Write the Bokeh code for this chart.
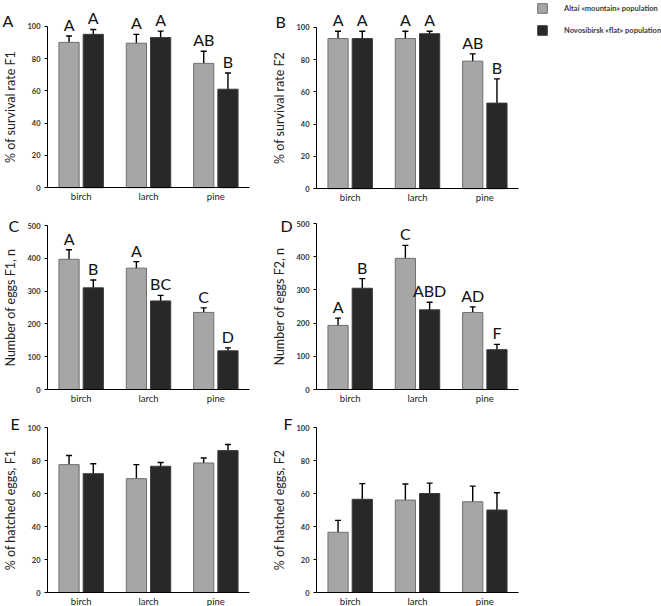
from bokeh.plotting import figure
from bokeh.layouts import column, row
from bokeh.models import (ColumnDataSource, FixedTicker, Range1d, Whisker, LabelSet,
                          Label, Legend, LegendItem, TeeHead)
from bokeh.core.properties import value
from bokeh.embed import file_html
from bokeh.resources import INLINE

categories = ["birch", "larch", "pine"]
populations = ["Altai «mountain» population", "Novosibirsk «flat» population"]

# survival rate F1 (%)
surv_f1_altai = [90, 89.5, 77]
surv_f1_altai_err = [4, 5.5, 7.5]
surv_f1_novo = [95, 93, 61]
surv_f1_novo_err = [3, 4, 10]
surv_f1_groups_altai = ["A", "A", "AB"]
surv_f1_groups_novo = ["A", "A", "B"]

# survival rate F2 (%)
surv_f2_altai = [93, 93, 79]
surv_f2_altai_err = [4.5, 4.5, 4.5]
surv_f2_novo = [93, 96, 53]
surv_f2_novo_err = [4.5, 1.5, 15]
surv_f2_groups_altai = ["A", "A", "AB"]
surv_f2_groups_novo = ["A", "A", "B"]

# number of eggs F1
eggs_f1_altai = [397, 370, 235]
eggs_f1_altai_err = [29, 20, 14]
eggs_f1_novo = [310, 270, 118]
eggs_f1_novo_err = [24, 17, 9]
eggs_f1_groups_altai = ["A", "A", "C"]
eggs_f1_groups_novo = ["B", "BC", "D"]

# number of eggs F2
eggs_f2_altai = [193, 395, 232]
eggs_f2_altai_err = [22, 39, 17]
eggs_f2_novo = [305, 240, 120]
eggs_f2_novo_err = [29, 23, 16]
eggs_f2_groups_altai = ["A", "C", "AD"]
eggs_f2_groups_novo = ["B", "ABD", "F"]

# hatched eggs F1 (%)
hatch_f1_altai = [77.5, 69, 78.5]
hatch_f1_altai_err = [5.5, 8.5, 3]
hatch_f1_novo = [72, 76.5, 86]
hatch_f1_novo_err = [6, 2.3, 3.7]

# hatched eggs F2 (%)
hatch_f2_altai = [36.5, 56, 55]
hatch_f2_altai_err = [7.2, 9.8, 9.5]
hatch_f2_novo = [56.5, 60, 50]
hatch_f2_novo_err = [9.5, 6.3, 10.5]

pct_ticks = [0, 20, 40, 60, 80, 100]
egg_ticks = [0, 100, 200, 300, 400, 500]

FONT = "Lato"
LIGHT, LIGHT_EDGE = "#a6a6a6", "#6f6f6f"
DARK, DARK_EDGE = "#282828", "#3c3c3c"


def panel(tag, ylabel, ticks, altai, altai_err, novo, novo_err,
          groups_altai=None, groups_novo=None, *, width, height,
          x0_px, x3_px, y0_px, ytop_px, tag_dx, tag_dy):
    """One bar panel; the plot frame fills the whole canvas and the axes are
    pinned at x=0 / y=0 so that group letters and the panel tag are never clipped."""
    n = len(categories)
    ymin, ymax = ticks[0], ticks[-1]
    ppu_x = (x3_px - x0_px) / n
    ppu_y = (y0_px - ytop_px) / (ymax - ymin)
    x_range = Range1d(-x0_px / ppu_x, n + (width - x3_px) / ppu_x)
    y_range = Range1d(ymin - (height - y0_px) / ppu_y, ymax + ytop_px / ppu_y)

    p = figure(width=width, height=height, x_range=x_range, y_range=y_range,
               output_backend="svg", toolbar_location=None,
               min_border=0, min_border_left=0, min_border_right=0,
               min_border_top=0, min_border_bottom=0)
    p.outline_line_color = None
    p.grid.visible = False
    p.background_fill_color = "white"
    p.border_fill_color = "white"

    centers = [i + 0.5 for i in range(n)]
    for vals, errs, groups, dx, fill, edge in (
            (altai, altai_err, groups_altai, -0.18, LIGHT, LIGHT_EDGE),
            (novo, novo_err, groups_novo, 0.18, DARK, DARK_EDGE)):
        src = ColumnDataSource(dict(
            x=[c + dx for c in centers], top=vals,
            upper=[v + e for v, e in zip(vals, errs)],
            lower=[v - e for v, e in zip(vals, errs)],
            grp=groups if groups else [""] * len(vals)))
        p.vbar(x="x", top="top", bottom=0, width=0.3, source=src,
               fill_color=fill, line_color=edge, line_width=1)
        p.add_layout(Whisker(source=src, base="x", upper="upper", lower="lower",
                             line_color="black", line_width=1.4,
                             upper_head=TeeHead(size=6, line_width=1.4, line_color="black"),
                             lower_head=TeeHead(size=6, line_width=1.4, line_color="black")))
        if groups:
            p.add_layout(LabelSet(source=src, x="x", y="upper", text="grp",
                                  text_align="center", text_baseline="alphabetic",
                                  y_offset=5, text_font=value(FONT),
                                  text_font_size=value("16px"), text_color="#111111"))

    p.add_layout(Label(x=0, y=ymax, x_offset=tag_dx, y_offset=tag_dy, text=tag,
                       text_font=FONT, text_font_size="16px", text_color="#111111",
                       text_baseline="alphabetic", text_align="left"))

    yax = p.yaxis[0]
    yax.fixed_location = 0
    yax.bounds = (ymin, ymax)
    yax.ticker = FixedTicker(ticks=ticks)
    yax.minor_tick_line_color = None
    yax.major_tick_in = 0
    yax.major_tick_out = 3
    yax.major_label_standoff = 4
    yax.major_label_text_font = FONT
    yax.major_label_text_font_style = "bold"
    yax.major_label_text_font_size = "7.5px"
    yax.major_label_text_color = "#333333"
    yax.axis_label = ylabel
    yax.axis_label_text_font = FONT
    yax.axis_label_text_font_style = "normal"
    yax.axis_label_text_font_size = "12.5px"
    yax.axis_label_text_color = "#222222"
    yax.axis_label_standoff = 6
    yax.axis_line_color = "black"

    xax = p.xaxis[0]
    xax.fixed_location = ymin
    xax.bounds = (0, n)
    xax.ticker = FixedTicker(ticks=centers)
    xax.major_label_overrides = {c: name for c, name in zip(centers, categories)}
    xax.minor_tick_line_color = None
    xax.major_tick_line_color = None
    xax.major_tick_in = 0
    xax.major_tick_out = 0
    xax.major_label_standoff = 3
    xax.major_label_text_font = FONT
    xax.major_label_text_font_size = "9.5px"
    xax.major_label_text_color = "#222222"
    xax.axis_line_color = "black"
    return p


LW, RW = 270, 260
pa = panel("A", "% of survival rate F1", pct_ticks, surv_f1_altai, surv_f1_altai_err,
           surv_f1_novo, surv_f1_novo_err, surv_f1_groups_altai, surv_f1_groups_novo,
           width=LW, height=205, x0_px=47, x3_px=249, y0_px=187, ytop_px=24,
           tag_dx=-45, tag_dy=6)
pb = panel("B", "% of survival rate F2", pct_ticks, surv_f2_altai, surv_f2_altai_err,
           surv_f2_novo, surv_f2_novo_err, surv_f2_groups_altai, surv_f2_groups_novo,
           width=RW, height=205, x0_px=46, x3_px=248, y0_px=188, ytop_px=25,
           tag_dx=-41, tag_dy=6)
pc = panel("C", "Number of eggs F1, n", egg_ticks, eggs_f1_altai, eggs_f1_altai_err,
           eggs_f1_novo, eggs_f1_novo_err, eggs_f1_groups_altai, eggs_f1_groups_novo,
           width=LW, height=205, x0_px=47, x3_px=249, y0_px=184, ytop_px=20,
           tag_dx=-39, tag_dy=0)
pd_ = panel("D", "Number of eggs F2, n", egg_ticks, eggs_f2_altai, eggs_f2_altai_err,
            eggs_f2_novo, eggs_f2_novo_err, eggs_f2_groups_altai, eggs_f2_groups_novo,
            width=RW, height=205, x0_px=46, x3_px=248, y0_px=184, ytop_px=18,
            tag_dx=-36, tag_dy=-2)
pe = panel("E", "% of hatched eggs, F1", pct_ticks, hatch_f1_altai, hatch_f1_altai_err,
           hatch_f1_novo, hatch_f1_novo_err,
           width=LW, height=196, x0_px=47, x3_px=249, y0_px=182, ytop_px=17,
           tag_dx=-37, tag_dy=4)
pf = panel("F", "% of hatched eggs, F2", pct_ticks, hatch_f2_altai, hatch_f2_altai_err,
           hatch_f2_novo, hatch_f2_novo_err,
           width=RW, height=196, x0_px=46, x3_px=248, y0_px=182, ytop_px=17,
           tag_dx=-33, tag_dy=4)

# legend panel: two swatch renderers parked outside the visible range
pl = figure(width=131, height=205, x_range=Range1d(0, 1), y_range=Range1d(0, 1),
            output_backend="svg", toolbar_location=None, min_border_left=6,
            min_border_right=0, min_border_top=2, min_border_bottom=0)
pl.axis.visible = False
pl.grid.visible = False
pl.outline_line_color = None
swatch = ColumnDataSource(dict(x=[5], top=[1]))
r1 = pl.vbar(x="x", top="top", width=0.1, source=swatch, fill_color=LIGHT, line_color=LIGHT_EDGE)
r2 = pl.vbar(x="x", top="top", width=0.1, source=swatch, fill_color=DARK, line_color=DARK_EDGE)
legend = Legend(items=[LegendItem(label=populations[0], renderers=[r1]),
                       LegendItem(label=populations[1], renderers=[r2])],
                location="top_left", margin=0, padding=6, spacing=10,
                glyph_width=12, glyph_height=12, label_height=12, label_standoff=16,
                label_text_font=FONT, label_text_font_size="7.5px",
                label_text_font_style="bold", label_text_color="#3a3a3a",
                border_line_color=None, background_fill_alpha=0)
pl.add_layout(legend, "center")

layout = column(row(pa, pb, pl), row(pc, pd_), row(pe, pf))

with open("out.html", "w") as f:
    f.write(file_html(layout, INLINE))
